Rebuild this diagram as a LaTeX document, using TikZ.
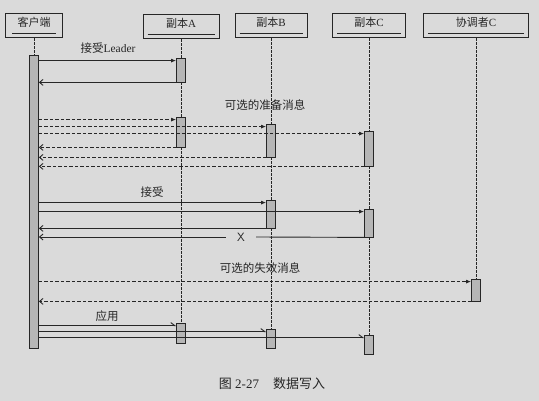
\documentclass[tikz,border=0pt]{standalone}
\usepackage{fontspec}
\setmainfont{Liberation Serif}
\newfontfamily\cjk{Noto Sans CJK SC}
\usetikzlibrary{arrows.meta}
\definecolor{paper}{RGB}{218,218,218}
\definecolor{actgray}{RGB}{182,182,182}
\definecolor{ink}{RGB}{38,38,38}

\begin{document}
\begin{tikzpicture}[x=1pt, y=-1pt, ink,
    head/.style={draw=ink, line width=1pt, minimum height=24pt, inner xsep=0pt, inner ysep=4pt,
                 text height=8pt, text depth=7pt, font=\fontsize{11}{13}\selectfont},
    uline/.style={line width=1.1pt},
    life/.style={line width=0.8pt, dash pattern=on 2.5pt off 1.5pt},
    act/.style={draw=ink, fill=actgray, line width=0.8pt, minimum width=9pt, inner sep=0pt},
    msg/.style={line width=0.9pt, -{Latex[length=5pt,width=4pt]}},
    ret/.style={line width=0.9pt, -{Straight Barb[length=3.5pt,width=6pt]}},
    half/.style={line width=0.9pt, -{Straight Barb[left,length=4pt,width=6pt]}},
    dsh/.style={dash pattern=on 3.5pt off 2pt},
    lbl/.style={font=\fontsize{11.5}{13}\selectfont}]
  % Paper
  \fill[paper] (0,0) rectangle (539,401);
  \useasboundingbox (0,0) rectangle (539,401);

  % Heads
  \node[head, minimum width=57pt] (client) at (34,26) {{\cjk 客户端}};
  \node[head, minimum width=76pt] (repA) at (181,27) {{\cjk 副本}A};
  \node[head, minimum width=72pt] (repB) at (271,26) {{\cjk 副本}B};
  \node[head, minimum width=73pt] (repC) at (369,26) {{\cjk 副本}C};
  \node[head, minimum width=105pt] (coord) at (476,26) {{\cjk 协调者}C};
  \draw[uline] ([xshift=7pt,yshift=5pt]client.south west) -- ([xshift=-7pt,yshift=5pt]client.south east);
  \draw[uline] ([xshift=5pt,yshift=5pt]repA.south west) -- ([xshift=-5pt,yshift=5pt]repA.south east);
  \draw[uline] ([xshift=5pt,yshift=5pt]repB.south west) -- ([xshift=-5pt,yshift=5pt]repB.south east);
  \draw[uline] ([xshift=5pt,yshift=5pt]repC.south west) -- ([xshift=-5pt,yshift=5pt]repC.south east);
  \draw[uline] ([xshift=5pt,yshift=5pt]coord.south west) -- ([xshift=-5pt,yshift=5pt]coord.south east);

  % Activations
  \node[act, minimum height=293pt] (cbar) at (34,201.5) {};
  \node[act, minimum height=24pt] (a1) at (181,70) {};
  \node[act, minimum height=30pt] (a2) at (181,132) {};
  \node[act, minimum height=33pt] (b1) at (271,140.5) {};
  \node[act, minimum height=35pt] (c1) at (369,148.5) {};
  \node[act, minimum height=28pt] (b2) at (271,214) {};
  \node[act, minimum height=28pt] (c2) at (369,223) {};
  \node[act, minimum height=22pt] (k1) at (476,290) {};
  \node[act, minimum height=20pt] (a3) at (181,333) {};
  \node[act, minimum height=19pt] (b3) at (271,338.5) {};
  \node[act, minimum height=19pt] (c3) at (369,344.5) {};

  % Lifelines
  \draw[life] (client) -- (cbar);
  \draw[life] (repA) -- (a1);
  \draw[life] (a1) -- (a2);
  \draw[life] (a2) -- (a3);
  \draw[life] (repB) -- (b1);
  \draw[life] (b1) -- (b2);
  \draw[life] (b2) -- (b3);
  \draw[life] (repC) -- (c1);
  \draw[life] (c1) -- (c2);
  \draw[life] (c2) -- (c3);
  \draw[life] (coord) -- (k1);

  % Accept leader
  \node[lbl] (lblLeader) at (108,48) {{\cjk 接受}Leader};
  \coordinate (m1) at ([yshift=-3pt]a1.north west);
  \draw[msg] (cbar.east |- m1) -- (m1);
  \draw[ret] (a1.south west) -- (cbar.east |- a1.south west);

  % Optional prepare
  \node[lbl] (lblPrep) at (265,105) {\cjk 可选的准备消息};
  \coordinate (m2) at ([yshift=-3pt]a2.north west);
  \coordinate (m3) at ([yshift=-3pt]b1.north west);
  \coordinate (m4) at ([yshift=-3pt]c1.north west);
  \draw[msg, dsh] (cbar.east |- m2) -- (m2);
  \draw[msg, dsh] (cbar.east |- m3) -- (m3);
  \draw[msg, dsh] (cbar.east |- m4) -- (m4);
  \draw[ret, dsh] (a2.south west) -- (cbar.east |- a2.south west);
  \draw[ret, dsh] (b1.south west) -- (cbar.east |- b1.south west);
  \draw[ret, dsh] (c1.south west) -- (cbar.east |- c1.south west);

  % Accept
  \node[lbl] (lblAccept) at (152,192) {\cjk 接受};
  \coordinate (m5) at ([yshift=-3pt]b2.north west);
  \coordinate (m6) at ([yshift=-3pt]c2.north west);
  \draw[msg] (cbar.east |- m5) -- (m5);
  \draw[msg] (cbar.east |- m6) -- (m6);
  \draw[ret] (b2.south west) -- (cbar.east |- b2.south west);
  \node[font=\fontsize{12}{13}\selectfont\sffamily, inner xsep=11pt] (lost) at (241,237) {X};
  \draw[line width=0.9pt] (c2.south west) -- (lost.east);
  \draw[ret] (lost.west) -- (cbar.east |- lost.west);

  % Optional failure
  \node[lbl] (lblFail) at (260,268) {\cjk 可选的失效消息};
  \coordinate (m7) at ([yshift=-3pt]k1.north west);
  \draw[msg, dsh] (cbar.east |- m7) -- (m7);
  \draw[ret, dsh] (k1.south west) -- (cbar.east |- k1.south west);

  % Apply
  \node[lbl] (lblApply) at (107,316) {\cjk 应用};
  \coordinate (m8) at ([yshift=-3pt]a3.north west);
  \coordinate (m9) at ([yshift=-3pt]b3.north west);
  \coordinate (m10) at ([yshift=-3pt]c3.north west);
  \draw[half] (cbar.east |- m8) -- (m8);
  \draw[half] (cbar.east |- m9) -- (m9);
  \draw[half] (cbar.east |- m10) -- (m10);

  % Caption
  \node[font=\fontsize{13}{15}\selectfont] (caption) at (272,384) {{\cjk 图} 2-27\hspace{14pt}{\cjk 数据写入}};
\end{tikzpicture}
\end{document}
